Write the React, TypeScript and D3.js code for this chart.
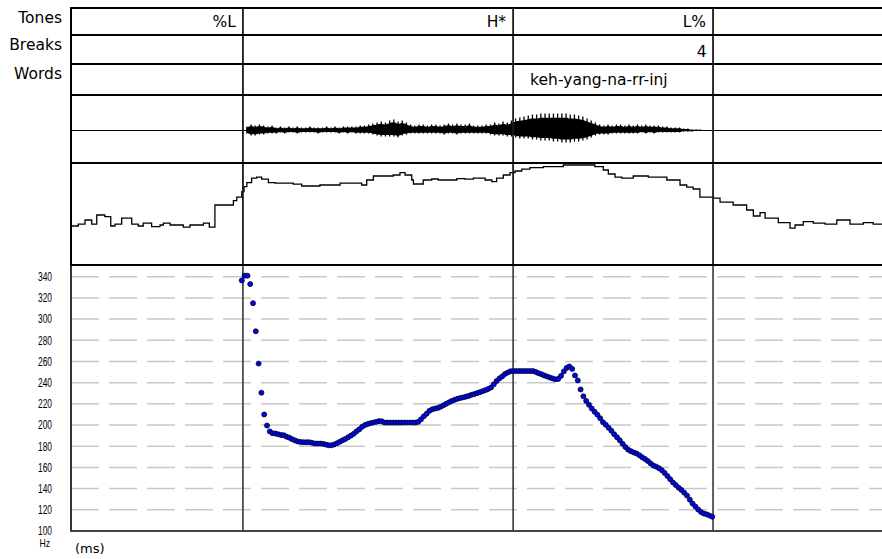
import React from "react";
import * as d3 from "d3";

// ---------- data ----------
const TIME_MAX_MS = 2900;

const TONE_LABELS = ["%L", "H*", "L%"];
const TONE_TIMES = [614, 1579, 2293];
const BREAK_LABELS = ["4"];
const BREAK_TIMES = [2293];
const WORD_LABELS = ["keh-yang-na-rr-inj"];
const WORD_STARTS = [1579];
const WORD_ENDS = [2293];

const PITCH_TICKS = [100, 120, 140, 160, 180, 200, 220, 240, 260, 280, 300, 320, 340];
const PITCH_START_MS = 610;
const PITCH_STEP_MS = 10;
const PITCH_HZ = [
  336.5, 341, 341, 333, 315, 288.5, 258, 230.5, 210, 199.5, 194,
  192.2, 192, 191.3, 190.6, 190.4, 189, 188, 186.6, 185.5, 184.5,
  184, 183.8, 183.8, 183.8, 183.3, 182.6, 182.5, 182.5, 182.3, 181.6,
  180.9, 180.9, 181.6, 182.8, 184.2, 185.6, 186.9, 188.5, 190.1, 191.8,
  194.1, 196, 198.4, 200, 201, 201.8, 202.3, 203, 203.7, 203.5,
  202.3, 202.3, 202.3, 202.3, 202.3, 202.3, 202.3, 202.3, 202.3, 202.3,
  202.3, 202.3,
  203, 205.4, 208.2, 210.6, 213.4, 214.8, 215.5, 216.2,
  217.2, 218.6, 220, 221.4, 222.8, 223.8, 224.7, 225.5, 226.1, 226.8,
  227.5, 228.5, 229.2, 230.1, 231, 232, 232.9, 234.1, 235.5, 238.4,
  241.5, 244, 245.9, 248.2, 249.6, 250.8, 250.9, 250.9, 250.9, 250.9,
  250.9, 250.9, 250.9, 250.9, 250.1, 248.9, 248, 246.8, 245.9, 244.9,
  244, 243.1, 243.5, 246.4, 250.6, 253.9, 255.3, 253, 246.8, 242.1,
  233.6, 227.1, 222.8, 219.1, 215.5, 212.5, 209.8, 206.4, 202.6, 200.2,
  197.4, 194.6, 191.3, 188.5, 185.6, 182.4, 179.2, 176.7, 175.3, 174.1,
  173.1, 171.5, 169.6, 168, 166.1, 163.8, 161.8, 160.7, 159.3, 157.4,
  154.8, 151.9, 148.9, 145.8, 143.3, 140.9, 138.8, 136.2, 133.4, 129.6,
  125.9, 123.1, 120.2, 117.9, 116.5, 115.7, 114.6, 113.5,
];

const INTENSITY_MS = [
  0, 26, 50, 74, 92, 121, 142, 157, 181, 217, 240, 258, 288, 318, 330, 354, 401, 425, 473, 494,
  514, 580, 592, 610, 618, 628, 645, 663, 681, 705, 729, 794, 824, 889, 961, 1038, 1056, 1080, 1151, 1175,
  1193, 1217, 1223, 1258, 1288, 1312, 1378, 1407, 1437, 1479, 1503, 1520, 1544, 1568, 1586, 1610, 1639, 1687, 1758, 1871,
  1901, 1919, 1943, 1967, 2008, 2062, 2128, 2175, 2199, 2222, 2246, 2294, 2318, 2365, 2413, 2437, 2461, 2479, 2526, 2568,
  2586, 2615, 2651, 2693, 2735, 2782, 2830, 2865, 2900,
];
const INTENSITY_DB = [
  53.5, 54.4, 56.5, 54.4, 59, 58.2, 53.5, 54.4, 57.4, 54.4, 53.5, 54.9, 53.2, 54, 54.9, 54, 52.9, 54, 54.9, 52.9,
  64, 66.2, 67.9, 70.7, 73.2, 75.2, 77.4, 77.9, 76.9, 75.2, 74.9, 74.4, 73.5, 74, 74.9, 74, 76.5, 78.5, 79, 80.2,
  79, 76.5, 74.5, 76.5, 77, 76.5, 77.2, 76.9, 77.4, 76.5, 75.7, 77.4, 79, 80.2, 81, 81.9, 82.7, 83.2, 84, 83.2,
  81.5, 79.5, 77.9, 77.4, 78.5, 77.9, 76.5, 74, 72.9, 72, 67.9, 67.4, 65.4, 64, 61.5, 58.5, 60.2, 57.4, 55.2, 52.4,
  54, 55.7, 54.9, 54.4, 56.5, 54.4, 55.2, 54.4, 54.4,
];

const WAVE_START_MS = 628;
const WAVE_STEP_MS = 15;
const WAVE_UP = [
  4, 6, 5, 6, 5, 4, 5, 3, 4, 3, 4, 3, 4, 3, 3, 4, 3, 3, 3, 4,
  3, 4, 3, 4, 4, 4, 4, 5, 5, 6, 7, 8, 9, 8, 10, 11, 9, 10, 8, 6,
  5, 6, 6, 5, 6, 6, 5, 6, 7, 6, 7, 6, 6, 7, 5, 5, 5, 6, 6, 8,
  7, 9, 8, 10, 12, 13, 14, 15, 16, 16, 17, 17, 17, 17, 17, 17, 17, 16, 16, 15,
  14, 12, 10, 8, 6, 5, 6, 5, 6, 6, 5, 6, 5, 6, 5, 6, 5, 5, 5, 4,
  4, 3, 3, 3, 2, 2, 1, 1, 1,
];
const WAVE_DOWN = [
  3, 5, 5, 4, 4, 3, 3, 3, 2, 3, 2, 2, 3, 2, 2, 2, 2, 3, 2, 2,
  2, 2, 3, 2, 3, 2, 3, 3, 3, 3, 4, 5, 6, 6, 6, 6, 7, 5, 4, 3,
  3, 3, 3, 3, 3, 3, 3, 4, 3, 3, 4, 3, 3, 3, 3, 3, 3, 3, 4, 5,
  5, 5, 6, 6, 7, 8, 8, 8, 9, 9, 10, 10, 10, 11, 11, 12, 12, 12, 11, 11,
  10, 9, 7, 5, 4, 4, 4, 3, 3, 3, 3, 3, 3, 3, 2, 3, 2, 3, 2, 2,
  2, 2, 2, 2, 1, 1, 1, 0, 0,
];

// ---------- layout ----------
const LEFT = 71;
const RIGHT = 882;
const ROWS = [8, 35, 64, 95, 163, 265, 531];
const TIER_NAMES = ["Tones", "Breaks", "Words"];
const FONT = "'DejaVu Sans', Verdana, sans-serif";
const AXIS_FONT = "'Liberation Sans', Arial, sans-serif";

export default function App() {
  const x = d3.scaleLinear().domain([0, TIME_MAX_MS]).range([LEFT, LEFT + 812]);
  const yP = d3.scaleLinear().domain([100, 340]).range([531, 276.7]);
  const yI = d3.scaleLinear().domain([35, 85]).range([263, 163]);
  const yW = d3.scaleLinear().domain([-34, 34]).range([164.5, 96.5]);

  const pitch = PITCH_HZ.map((hz, i) => ({ t: PITCH_START_MS + i * PITCH_STEP_MS, hz }));
  const intensity: [number, number][] = INTENSITY_MS.map((t, i) => [t, INTENSITY_DB[i]]);
  const wave = WAVE_UP.map((u, i) => ({ t: WAVE_START_MS + i * WAVE_STEP_MS, up: u, dn: WAVE_DOWN[i] }));

  const intensityPath = d3
    .line<[number, number]>()
    .x((d) => x(d[0]))
    .y((d) => yI(d[1]))
    .curve(d3.curveStepAfter)(intensity) as string;

  const waveCore = d3
    .area<{ t: number; up: number; dn: number }>()
    .x((d) => x(d.t))
    .y0((d) => yW(-d.dn * 0.75))
    .y1((d) => yW(d.up * 0.75))
    .curve(d3.curveMonotoneX)(wave) as string;

  const gridTicks = PITCH_TICKS.filter((v) => v > 100);

  return (
    <div style={{ position: "absolute", left: 0, top: 0 }}>
      <svg width={882} height={559} style={{ display: "block", background: "#fff" }}>
        <rect x={0} y={0} width={882} height={559} fill="#fff" />

        {/* pitch grid */}
        {gridTicks.map((v) => (
          <line
            key={"g" + v}
            x1={LEFT}
            x2={RIGHT}
            y1={yP(v)}
            y2={yP(v)}
            stroke="#c8c8c8"
            strokeWidth={1.5}
            strokeDasharray="28 10"
          />
        ))}

        {/* waveform */}
        <line x1={LEFT} x2={RIGHT} y1={yW(0)} y2={yW(0)} stroke="#000" strokeWidth={1} />
        <path d={waveCore} fill="#000" />
        {wave.map((d, i) => (
          <line
            key={"w" + i}
            x1={x(d.t)}
            x2={x(d.t)}
            y1={yW(d.up)}
            y2={yW(-d.dn)}
            stroke="#000"
            strokeWidth={1.3}
          />
        ))}

        {/* intensity */}
        <path d={intensityPath} fill="none" stroke="#000" strokeWidth={1.3} />

        {/* vertical boundary lines */}
        {TONE_TIMES.map((t, i) => (
          <g key={"v" + i}>
            <line x1={x(t)} x2={x(t)} y1={ROWS[0]} y2={ROWS[5]} stroke="#1a1a1a" strokeWidth={1.8} />
            <line x1={x(t)} x2={x(t)} y1={ROWS[5]} y2={ROWS[6]} stroke="#2a2a2a" strokeWidth={1.5} />
          </g>
        ))}

        {/* left border */}
        <line x1={LEFT} x2={LEFT} y1={ROWS[0]} y2={ROWS[5]} stroke="#000" strokeWidth={2} />
        <line x1={LEFT} x2={LEFT} y1={ROWS[5]} y2={ROWS[6] + 1} stroke="#333" strokeWidth={2} />

        {/* horizontal borders */}
        {ROWS.slice(0, 6).map((r, i) => (
          <line key={"h" + i} x1={LEFT - 1} x2={RIGHT} y1={r} y2={r} stroke="#000" strokeWidth={2} />
        ))}
        <line x1={LEFT - 1} x2={RIGHT} y1={ROWS[6]} y2={ROWS[6]} stroke="#444" strokeWidth={2} />

        {/* pitch dots */}
        {pitch.map((d, i) => (
          <circle key={"p" + i} cx={x(d.t)} cy={yP(d.hz)} r={2.5} fill="#0008e6" stroke="#00002a" strokeWidth={0.8} />
        ))}

        {/* tier names */}
        {TIER_NAMES.map((n, i) => (
          <text key={"tn" + i} x={62} y={ROWS[i] + 14.7} textAnchor="end" fontFamily={FONT} fontSize={15.5} fill="#000">
            {n}
          </text>
        ))}

        {/* tier contents */}
        {TONE_LABELS.map((l, i) => (
          <text key={"tl" + i} x={x(TONE_TIMES[i]) - 7} y={ROWS[0] + 18.6} textAnchor="end" fontFamily={FONT} fontSize={15.5} fill="#000">
            {l}
          </text>
        ))}
        {BREAK_LABELS.map((l, i) => (
          <text key={"bl" + i} x={x(BREAK_TIMES[i]) - 6.5} y={ROWS[1] + 21.6} textAnchor="end" fontFamily={FONT} fontSize={15.5} fill="#000">
            {l}
          </text>
        ))}
        {WORD_LABELS.map((l, i) => (
          <text
            key={"wl" + i}
            x={x(WORD_STARTS[i]) + 17}
            y={ROWS[2] + 21}
            textAnchor="start"
            fontFamily={FONT}
            fontSize={15.5}
            fill="#000"
            data-end={WORD_ENDS[i]}
          >
            {l}
          </text>
        ))}

        {/* pitch axis labels */}
        {PITCH_TICKS.map((v) => (
          <text
            key={"yl" + v}
            x={52}
            y={yP(v) + 4.3}
            textAnchor="end"
            fontFamily={AXIS_FONT}
            fontSize={12.5}
            textLength={14}
            lengthAdjust="spacingAndGlyphs"
            fill="#000"
          >
            {v}
          </text>
        ))}
        <text x={50} y={547} textAnchor="end" fontFamily={AXIS_FONT} fontSize={10.5} textLength={10.5} lengthAdjust="spacingAndGlyphs" fill="#000">
          Hz
        </text>
        <text x={75} y={553} fontFamily={FONT} fontSize={13} fill="#000">
          (ms)
        </text>
      </svg>
    </div>
  );
}
